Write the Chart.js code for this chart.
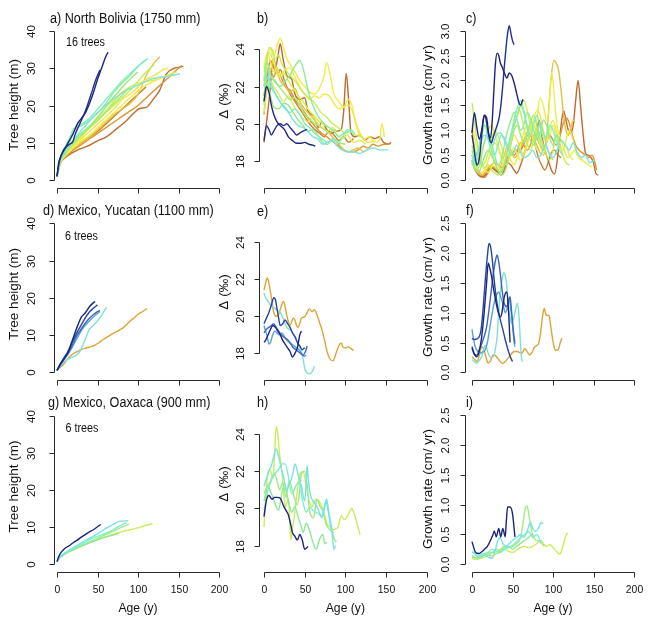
<!DOCTYPE html>
<html><head><meta charset="utf-8">
<script src="https://cdn.jsdelivr.net/npm/chart.js@4.4.1/dist/chart.umd.min.js"></script>
<style>
html,body{margin:0;padding:0;background:#fff;}
#wrap{position:relative;width:666px;height:617px;overflow:hidden;}
#wrap canvas{position:absolute;left:0;top:0;}
</style>
</head><body><div id="wrap"></div>
<script>
// ---------------- DATA ----------------
const ageTicks = [0, 50, 100, 150, 200];
const heightTicks = [0, 10, 20, 30, 40];
const deltaTicks = [18, 20, 22, 24];
const growthTicksBolivia = [0, 0.5, 1, 1.5, 2, 2.5, 3];
const growthTicksMexico = [0, 0.5, 1, 1.5, 2, 2.5];

const colorsBolivia = ['#1b2580','#22308e','#7fe3dc','#7ff0c4','#8fec98','#9be880','#a8ec78','#c4ee58','#d2f04c','#eeee48','#f2e84a','#e2ec52','#e8c03c','#d9962e','#bf6a2e','#cf7f2c'];
const colorsYucatan = ['#1b2580','#2744a0','#3a67bb','#58a2d4','#7fe0d6','#dea43a'];
const colorsOaxaca = ['#1b2580','#78e2e6','#80f0cc','#8fe89a','#a2ea80','#c8ee5a'];

// North Bolivia: tree height (m) vs age (y)
const heightBolivia = [
 [[0,1],[2,4.5],[5,6.5],[10,8.5],[15,10.5],[20,12.5],[25,15],[30,16.5],[35,18],[40,20.5],[45,23.5],[50,27],[55,30],[60,33],[63,34.3]],
 [[0,1],[3,5],[8,8],[15,9.5],[20,10.5],[22,12],[28,15],[35,18.5],[42,23],[48,27],[53,29.5]],
 [[0,1],[3,4.5],[8,6.5],[15,9],[25,12],[35,14.5],[45,17],[55,19],[65,21],[75,22.5],[85,24],[95,25],[105,26],[115,27],[125,27.5],[135,27.8],[152,28.5]],
 [[0,1],[3,5],[8,8],[15,11],[20,13.5],[30,15],[40,16.5],[50,19],[60,21.5],[70,24],[80,26.5],[90,28.5],[100,30.5],[112,32.7]],
 [[0,1],[3,5],[8,7.5],[15,10],[22,13.5],[30,14.5],[40,16],[50,18],[60,20.5],[70,23.5],[80,26],[90,28],[100,30.5],[110,32.3]],
 [[0,1],[3,4.5],[8,7],[15,9],[25,11.5],[35,13.5],[45,15.5],[55,18],[65,21],[75,23.5],[85,26],[100,29]],
 [[0,1],[3,5],[8,7],[15,9],[25,11],[35,13],[45,15],[55,17],[65,19.5],[75,21.5],[90,25]],
 [[0,1],[4,5],[10,7],[20,9.5],[30,12],[40,14],[50,16],[60,18],[70,20],[80,22],[90,24],[100,26.5],[110,29],[120,31]],
 [[0,1],[4,5.5],[10,8],[20,10],[30,12],[40,14],[50,16],[60,18.5],[70,21],[80,23.5]],
 [[0,1],[4,4.5],[10,6.5],[20,8.5],[30,10.5],[40,12],[50,14],[60,16],[70,18],[80,20],[90,22],[100,24],[110,25.5],[120,26.5],[130,27.5],[140,28.5],[148,29]],
 [[0,1],[4,5],[10,7],[20,9],[30,11],[40,13],[50,15],[60,17],[70,19],[80,21.5],[90,23],[100,25],[110,27],[120,28],[130,29.5],[137,30]],
 [[0,1],[4,5],[10,7.5],[20,9.5],[30,11.5],[40,14],[50,17],[60,19.5],[70,21.5],[80,23.5],[90,25],[100,26],[112,26.5],[125,27]],
 [[0,1],[4,5],[10,6.5],[20,8.5],[30,10],[40,11.5],[50,13.5],[60,15.5],[70,17.5],[80,19],[90,20.5],[100,23],[110,28],[120,31.5],[127,33]],
 [[0,1],[4,4.5],[10,6],[20,8],[30,9.5],[40,11],[50,12.5],[60,14],[70,15.5],[80,17],[90,18.5],[100,20],[110,22],[120,24],[130,26],[140,28],[150,30],[154,30.7]],
 [[0,1],[4,4.5],[12,6.3],[25,8],[37,9],[50,10.5],[61,11.6],[75,14],[86,16],[95,18],[102,19.2],[110,19.5],[120,22],[127,24.2],[135,28.5],[145,30],[156,30.5]],
 [[0,1],[4,5],[10,6.5],[20,8.5],[30,10],[40,11.5],[50,13],[60,15],[70,17],[80,19],[90,21],[100,23],[110,25]]
];

// North Bolivia: delta (permil) vs age (y)
const deltaBolivia = [
 [[0,21.2],[3,22.0],[6,21.7],[9,21.0],[12,20.5],[16,20.1],[20,19.9],[25,19.7],[30,19.3],[35,19.1],[40,18.95],[45,18.95],[50,19.0],[55,18.9],[60,18.85],[63,18.8]],
 [[0,19.1],[3,19.9],[6,19.7],[9,19.4],[12,19.6],[16,19.9],[20,20.0],[24,19.9],[28,20.0],[32,19.8],[36,19.6],[40,19.4],[44,19.5],[48,19.6],[53,19.7]],
 [[0,22.3],[4,22.8],[8,22.2],[12,21.8],[18,21.3],[24,20.9],[30,20.6],[36,20.2],[42,19.9],[48,19.8],[54,19.6],[60,19.3],[66,19.2],[72,18.9],[78,19.0],[84,19.1],[90,18.8],[96,18.6],[102,18.5],[110,18.5],[118,18.4],[126,18.6],[134,18.7],[142,18.6],[152,18.6]],
 [[0,21.5],[4,22.5],[8,22.0],[14,21.6],[20,21.2],[26,20.9],[32,20.6],[38,20.8],[44,20.5],[50,20.0],[56,19.8],[62,19.5],[68,19.3],[74,19.1],[80,19.0],[86,19.2],[92,19.0],[98,19.4],[104,19.6],[112,19.5]],
 [[0,22.8],[4,23.3],[8,22.6],[14,22.2],[20,22.0],[26,22.3],[32,22.6],[38,23.1],[44,23.4],[48,23.0],[52,22.2],[56,21.5],[62,20.8],[68,20.3],[74,20.0],[80,19.8],[86,19.6],[92,19.3],[98,19.5],[104,19.7],[110,19.6]],
 [[0,21.2],[4,22.2],[8,21.5],[12,20.9],[18,20.8],[24,21.1],[30,21.0],[36,20.6],[42,20.2],[48,19.9],[54,19.6],[60,19.7],[66,19.4],[72,19.0],[78,18.9],[84,19.2],[90,19.0],[100,18.9]],
 [[0,22.0],[4,23.0],[8,22.6],[14,22.3],[20,21.9],[26,21.6],[32,21.3],[38,21.4],[44,21.0],[50,20.5],[56,20.3],[62,20.0],[68,19.9],[74,19.7],[80,19.5],[86,19.7],[90,19.6]],
 [[0,21.0],[3,23.0],[6,24.1],[10,24.0],[14,23.5],[18,23.7],[22,23.2],[28,22.8],[34,22.5],[40,22.2],[46,21.8],[52,21.5],[58,21.3],[64,21.0],[70,20.6],[76,20.4],[82,20.1],[88,19.9],[94,19.7],[100,19.5],[106,19.6],[112,19.4],[120,19.3]],
 [[0,22.4],[3,23.5],[7,23.8],[11,23.4],[15,22.8],[20,22.5],[25,22.7],[30,22.3],[36,21.9],[42,21.5],[48,21.2],[54,20.8],[60,20.5],[66,20.2],[72,20.0],[80,19.8]],
 [[0,22.0],[4,23.5],[8,24.0],[12,23.6],[16,24.2],[20,24.6],[24,24.1],[28,23.5],[32,23.2],[38,22.8],[44,22.3],[50,22.0],[56,21.7],[62,21.6],[68,21.9],[74,22.6],[77,23.3],[80,22.9],[86,21.6],[92,21.2],[98,20.9],[104,21.3],[108,21.0],[112,20.2],[118,19.5],[124,19.2],[130,19.3],[136,19.0],[142,19.1],[145,20.0],[148,19.3]],
 [[0,23.0],[4,23.8],[8,23.3],[12,22.8],[16,23.0],[20,22.6],[26,22.9],[32,23.0],[38,22.5],[44,22.0],[50,21.6],[56,21.3],[62,21.5],[68,21.4],[74,21.6],[80,21.5],[86,21.1],[92,20.8],[98,20.9],[104,21.0],[110,20.5],[116,19.5],[122,19.2],[128,19.0],[137,19.1]],
 [[0,20.6],[4,21.8],[8,22.3],[12,22.0],[18,21.6],[24,21.2],[30,21.5],[36,21.0],[42,20.6],[48,20.3],[54,20.1],[60,20.4],[66,20.0],[72,19.8],[78,19.6],[84,19.8],[90,19.4],[96,19.2],[102,19.4],[110,19.0],[118,19.1],[125,18.9]],
 [[0,22.3],[4,23.2],[8,22.9],[12,23.5],[16,22.8],[20,22.3],[26,22.0],[32,21.7],[38,21.9],[44,21.2],[50,20.8],[56,20.5],[62,20.2],[68,19.9],[74,19.7],[80,19.5],[86,19.2],[92,18.9],[98,18.6],[104,18.5],[110,18.6],[116,18.7],[122,18.5],[127,18.6]],
 [[0,20.5],[4,22.3],[8,22.8],[12,22.5],[16,23.0],[20,22.6],[26,22.0],[32,21.8],[38,21.3],[44,21.0],[50,20.6],[56,20.2],[62,19.9],[68,19.6],[74,19.4],[80,19.2],[86,19.0],[92,18.8],[98,18.6],[104,18.5],[110,18.5],[116,18.6],[122,18.8],[128,18.7],[134,18.9],[140,18.8],[148,18.9],[154,18.9]],
 [[0,19.0],[4,20.4],[7,21.6],[11,23.2],[14,23.0],[17,23.6],[20,24.3],[23,23.6],[28,22.6],[34,22.4],[38,21.6],[44,21.3],[50,21.4],[54,20.7],[61,20.4],[67,19.8],[71,20.1],[77,19.7],[83,19.5],[89,19.6],[95,19.7],[98,20.7],[101,22.7],[104,21.3],[107,19.5],[112,19.3],[118,19.4],[124,19.1],[130,19.3],[136,19.2],[142,19.3],[147,19.0],[153,18.9],[156,19.0]],
 [[0,21.5],[4,22.6],[8,23.4],[12,23.0],[16,22.7],[20,22.9],[26,22.2],[32,21.6],[38,21.2],[44,20.8],[50,20.4],[56,20.0],[62,19.7],[68,19.5],[74,19.3],[80,19.6],[86,19.4],[92,19.1],[98,19.3],[104,19.0],[110,19.2]]
];

// North Bolivia: growth rate (cm/yr) vs age (y)
const growthBolivia = [
 [[0,0.95],[3,1.35],[6,1.05],[9,0.82],[12,1.0],[15,1.3],[18,1.25],[21,0.9],[23,0.85],[25,1.2],[27,1.8],[29,2.35],[31,2.55],[33,2.5],[35,2.35],[37,2.28],[40,2.15],[43,2.05],[46,2.15],[49,2.1],[52,1.95],[55,1.75],[58,1.55],[60,1.5],[62,1.58],[63,1.62]],
 [[0,0.9],[2,0.7],[4,0.45],[6,0.3],[8,0.35],[10,0.55],[12,0.9],[14,1.2],[16,1.3],[18,1.15],[20,0.95],[22,0.8],[24,0.75],[26,0.85],[28,0.95],[30,1.05],[32,1.15],[34,1.3],[36,1.55],[38,1.9],[40,2.3],[42,2.65],[44,2.95],[46,3.1],[48,2.95],[50,2.8],[52,2.72]],
 [[0,0.3],[5,0.5],[10,0.7],[15,0.9],[20,0.85],[25,0.7],[30,0.9],[35,0.95],[40,0.8],[45,0.6],[50,0.5],[55,0.7],[60,0.55],[65,0.45],[70,0.5],[75,0.6],[80,0.45],[85,0.5],[90,0.7],[95,0.55],[100,0.45],[105,0.6],[110,0.8],[115,0.7],[120,0.6],[125,0.75],[130,0.55],[135,0.45],[140,0.5],[145,0.35],[152,0.4]],
 [[0,0.5],[4,0.3],[8,0.6],[12,1.0],[16,1.1],[20,0.8],[24,0.6],[28,0.5],[32,0.7],[36,0.9],[40,0.85],[44,0.7],[48,0.9],[52,1.2],[56,1.45],[60,1.6],[64,1.4],[68,1.1],[72,0.9],[76,1.1],[80,1.3],[84,1.1],[88,0.85],[92,0.9],[96,1.1],[100,1.0],[104,0.8],[108,0.6],[112,0.5]],
 [[0,0.6],[4,0.35],[8,0.25],[12,0.5],[16,0.8],[20,0.9],[24,0.75],[28,0.5],[32,0.3],[36,0.4],[40,0.7],[44,1.0],[48,1.2],[52,1.35],[56,1.2],[60,1.0],[64,1.1],[68,1.35],[72,1.25],[76,1.0],[80,0.8],[84,0.95],[88,1.2],[92,1.1],[96,0.85],[100,0.7],[104,0.9],[110,0.8]],
 [[0,0.4],[4,0.2],[8,0.15],[12,0.3],[16,0.5],[20,0.6],[24,0.5],[28,0.35],[32,0.2],[36,0.15],[40,0.3],[44,0.6],[48,0.9],[52,1.1],[56,1.3],[60,1.5],[64,1.35],[68,1.05],[72,0.8],[76,0.7],[80,0.9],[84,1.1],[88,0.95],[92,0.7],[96,0.5],[100,0.4]],
 [[0,0.7],[4,0.5],[8,0.6],[12,0.9],[16,1.1],[20,0.9],[24,0.6],[28,0.35],[32,0.2],[36,0.1],[40,0.15],[44,0.35],[48,0.7],[52,1.0],[56,1.1],[60,0.9],[64,0.75],[68,0.9],[72,1.15],[76,1.3],[80,1.1],[84,0.8],[88,0.65],[90,0.6]],
 [[0,1.55],[3,1.2],[6,0.8],[9,0.5],[12,0.35],[16,0.25],[20,0.3],[24,0.2],[28,0.15],[32,0.1],[36,0.2],[40,0.35],[44,0.6],[48,0.9],[52,1.2],[56,1.45],[60,1.35],[64,1.05],[68,0.75],[72,0.6],[76,0.8],[80,1.05],[84,0.9],[88,0.7],[92,0.5],[96,0.4],[100,0.6],[104,0.9],[108,0.75],[112,0.5],[116,0.35],[120,0.3]],
 [[0,0.9],[4,0.6],[8,0.4],[12,0.3],[16,0.35],[20,0.55],[24,0.8],[28,1.0],[32,0.9],[36,0.7],[40,0.5],[44,0.6],[48,0.85],[52,1.1],[56,1.3],[60,1.5],[64,1.6],[68,1.4],[72,1.1],[76,0.8],[80,0.6]],
 [[0,1.1],[4,0.8],[8,0.5],[12,0.3],[16,0.2],[20,0.15],[24,0.25],[28,0.4],[32,0.3],[36,0.2],[40,0.35],[44,0.5],[48,0.4],[52,0.3],[56,0.45],[60,0.7],[64,0.95],[68,1.1],[72,1.0],[76,0.8],[80,1.2],[84,1.65],[88,1.5],[92,1.2],[95,1.4],[98,2.15],[100,2.0],[103,1.4],[106,1.0],[110,0.8],[114,0.6],[118,0.45],[122,0.5],[126,0.6],[130,0.5],[135,0.4],[140,0.35],[144,0.3],[148,0.25]],
 [[0,0.3],[4,0.25],[8,0.35],[12,0.6],[16,0.8],[20,1.0],[24,1.1],[28,0.95],[32,0.7],[36,0.5],[40,0.4],[44,0.55],[48,0.75],[52,0.9],[56,0.8],[60,0.6],[64,0.5],[68,0.7],[72,0.95],[76,1.2],[80,1.4],[84,1.3],[88,1.0],[92,0.8],[96,0.9],[100,1.1],[104,0.9],[108,0.7],[112,0.6],[116,0.8],[120,1.0],[124,0.85],[128,0.6],[132,0.45],[137,0.4]],
 [[0,0.5],[4,0.35],[8,0.2],[12,0.15],[16,0.2],[20,0.4],[24,0.6],[28,0.75],[32,0.65],[36,0.45],[40,0.3],[44,0.35],[48,0.5],[52,0.65],[56,0.5],[60,0.4],[64,0.55],[68,0.75],[72,0.95],[76,1.1],[80,0.95],[84,0.7],[88,0.55],[92,0.75],[96,1.05],[100,1.2],[104,1.0],[108,0.75],[112,0.6],[116,0.7],[120,0.5],[125,0.4]],
 [[0,0.5],[4,0.25],[8,0.15],[12,0.1],[16,0.15],[20,0.25],[24,0.3],[28,0.25],[32,0.2],[36,0.3],[40,0.5],[44,0.7],[48,0.6],[52,0.45],[56,0.5],[60,0.65],[64,0.8],[68,0.95],[72,1.0],[76,0.85],[80,0.7],[84,0.55],[88,0.5],[92,0.8],[95,1.5],[98,2.1],[101,2.4],[104,2.35],[107,2.2],[110,1.8],[113,1.3],[116,1.0],[119,0.9],[122,1.05],[125,1.2],[127,1.15]],
 [[0,0.35],[4,0.2],[8,0.12],[12,0.1],[16,0.15],[20,0.22],[24,0.3],[28,0.35],[32,0.3],[36,0.25],[40,0.3],[44,0.45],[48,0.55],[52,0.5],[56,0.6],[60,0.75],[64,0.7],[68,0.6],[72,0.7],[76,0.9],[80,0.85],[84,0.7],[88,0.6],[92,0.75],[96,0.9],[100,0.8],[104,0.7],[108,0.85],[112,1.1],[116,1.25],[120,1.15],[124,0.9],[128,0.7],[132,0.6],[136,0.55],[140,0.5],[144,0.45],[148,0.5],[151,0.4],[154,0.2]],
 [[0,0.4],[4,0.2],[8,0.1],[12,0.06],[16,0.1],[20,0.2],[24,0.25],[28,0.2],[32,0.15],[36,0.1],[40,0.2],[44,0.35],[48,0.3],[52,0.2],[55,0.13],[60,0.3],[64,0.5],[68,0.75],[72,0.9],[76,0.8],[80,1.0],[83,1.2],[86,0.9],[90,0.6],[94,0.4],[98,0.2],[102,0.12],[106,0.5],[110,1.1],[113,1.4],[116,1.2],[119,1.0],[122,0.95],[125,1.1],[128,1.6],[131,2.0],[134,1.5],[137,0.95],[140,0.55],[143,0.5],[147,0.45],[150,0.35],[153,0.13],[156,0.1]],
 [[0,1.0],[3,0.6],[6,0.3],[9,0.15],[12,0.08],[15,0.05],[18,0.1],[22,0.2],[26,0.25],[30,0.2],[34,0.15],[38,0.2],[42,0.3],[46,0.45],[50,0.55],[54,0.6],[58,0.55],[62,0.65],[66,0.8],[70,0.95],[74,0.9],[78,0.7],[82,0.45],[86,0.3],[90,0.2],[94,0.35],[98,0.55],[102,0.6],[106,0.5],[110,0.45]]
];

// Mexico, Yucatan
const heightYucatan = [
 [[0,0.5],[3,1.8],[6,2.8],[10,4],[14,5.5],[18,8],[22,10.5],[26,12.8],[30,14.8],[35,16],[40,17.6],[44,18.5],[47,19]],
 [[0,0.5],[4,2.2],[8,3.7],[12,5],[16,6.8],[20,8.6],[24,10.4],[28,12],[32,13.5],[36,15],[40,16.2],[45,17.2],[50,18.1]],
 [[0,0.5],[4,2],[8,3.3],[12,4.6],[16,6],[20,7.8],[24,9.6],[28,11],[32,12.3],[36,13.5],[40,14.5],[45,15.5],[50,16.3],[53,16.6]],
 [[0,0.5],[4,1.8],[10,3.8],[15,5.3],[20,7.2],[25,9.2],[30,11.2],[35,12.6],[40,13.8],[45,14.9],[50,15.8],[53,16.3]],
 [[0,0.5],[4,1.6],[8,2.6],[12,3.3],[18,4],[24,4.6],[28,5.5],[32,7.4],[36,9.5],[40,11.5],[45,12.6],[50,13.8],[55,15.3],[61,17.4]],
 [[0,0.5],[4,1.3],[8,2.1],[12,3.3],[16,4.3],[21,5.1],[26,5.7],[31,6.2],[37,6.6],[42,6.9],[47,7.3],[52,8.0],[57,8.8],[63,9.6],[70,10.5],[76,11.2],[82,12],[86,12.8],[90,13.7],[95,14.6],[100,15.6],[105,16.2],[111,17.1]]
];
const deltaYucatan = [
 [[0,18.6],[2,18.7],[5,19.0],[8,19.3],[11,19.5],[14,19.4],[17,19.2],[20,19.0],[23,18.7],[26,18.5],[29,18.3],[32,18.1],[35,17.8],[38,18.0],[41,18.3],[44,19.0],[46,19.2]],
 [[0,19.6],[3,19.9],[6,20.2],[9,20.6],[12,21.0],[14,20.9],[16,20.4],[18,19.9],[20,19.5],[23,19.6],[26,19.8],[29,19.6],[32,19.4],[35,19.1],[38,18.9],[41,18.6],[44,18.4],[47,18.2],[50,18.3]],
 [[0,19.1],[3,19.3],[6,19.4],[9,19.5],[12,19.6],[15,19.4],[18,19.2],[21,19.0],[24,18.9],[27,18.8],[30,18.7],[33,18.5],[36,18.3],[39,18.2],[42,18.1],[45,18.0],[48,17.9],[51,18.1],[53,18.4]],
 [[0,19.5],[2,19.2],[4,18.9],[6,18.5],[8,18.6],[10,18.9],[13,19.2],[16,19.1],[19,19.0],[22,19.1],[25,18.9],[28,18.7],[31,18.6],[34,18.5],[37,18.4],[40,18.3],[43,18.2],[46,18.0],[49,17.85],[52,17.9]],
 [[0,21.25],[2,21.0],[5,20.8],[8,20.6],[11,20.5],[14,20.4],[17,20.3],[20,20.2],[22,20.05],[25,19.7],[28,19.4],[31,19.3],[34,19.2],[37,19.0],[40,18.7],[43,18.4],[46,18.1],[48,17.7],[50,17.2],[53,16.95],[56,16.9],[59,17.0],[62,17.3]],
 [[0,21.4],[2,21.8],[4,22.06],[6,21.8],[8,21.3],[10,20.7],[12,20.2],[15,20.0],[18,20.1],[21,20.5],[24,20.8],[26,20.5],[28,20.05],[30,19.7],[32,19.5],[34,19.7],[36,19.9],[38,19.8],[40,19.5],[42,19.4],[44,19.6],[46,19.9],[49,19.95],[52,20.1],[54,20.3],[56,20.4],[59,20.25],[62,20.35],[65,20.1],[68,19.7],[71,19.3],[74,18.8],[77,18.2],[79,17.9],[82,17.65],[85,17.6],[87,17.8],[90,18.2],[93,18.5],[95,18.55],[97,18.35],[100,18.3],[103,18.35],[106,18.3],[110,18.15]]
];
const growthYucatan = [
 [[0,0.43],[3,0.3],[6,0.26],[9,0.36],[12,0.6],[15,1.0],[18,1.5],[20,1.83],[22,1.75],[24,1.62],[27,1.37],[30,1.15],[33,0.98],[35,0.93],[37,1.0],[39,1.2],[41,1.32],[43,1.35],[45,1.05],[47,0.5]],
 [[0,0.57],[3,0.55],[6,0.56],[9,0.6],[11,0.7],[13,0.95],[15,1.3],[17,1.65],[19,1.95],[21,2.16],[23,2.1],[25,1.9],[27,1.6],[29,1.35],[31,1.15],[33,1.0],[35,0.88],[38,0.72],[41,0.55],[44,0.4],[47,0.27],[50,0.18]],
 [[0,0.4],[3,0.3],[6,0.29],[9,0.38],[12,0.48],[15,0.6],[18,0.76],[21,1.05],[24,1.4],[27,1.72],[29,1.88],[31,1.97],[33,1.85],[35,1.65],[37,1.4],[39,1.2],[41,1.12],[43,1.1],[45,1.2],[47,1.27],[49,1.0],[51,0.7],[53,0.48]],
 [[0,0.72],[2,0.55],[4,0.43],[7,0.35],[10,0.32],[13,0.34],[16,0.37],[19,0.5],[22,0.75],[25,1.0],[28,1.2],[31,1.32],[33,1.35],[35,1.28],[37,1.2],[39,1.1],[41,1.0],[43,1.05],[45,1.18],[46,1.21],[48,1.05],[50,0.8],[52,0.5],[53,0.43]],
 [[0,0.21],[3,0.18],[6,0.15],[9,0.2],[12,0.26],[15,0.42],[17,0.45],[20,0.32],[23,0.25],[26,0.25],[29,0.4],[31,0.6],[33,1.0],[35,1.35],[37,1.55],[39,1.67],[41,1.62],[43,1.45],[45,1.1],[47,0.9],[49,0.82],[51,0.88],[53,1.0],[55,1.12],[56,1.16],[58,0.95],[60,0.45],[61,0.26],[62,0.18]],
 [[0,0.26],[3,0.22],[6,0.18],[9,0.28],[12,0.43],[14,0.4],[16,0.32],[18,0.22],[20,0.15],[23,0.2],[26,0.29],[29,0.28],[32,0.23],[35,0.18],[38,0.15],[41,0.18],[44,0.23],[47,0.28],[50,0.33],[53,0.35],[56,0.35],[59,0.33],[62,0.32],[65,0.4],[68,0.35],[71,0.29],[74,0.33],[77,0.42],[80,0.45],[82,0.48],[84,0.6],[86,0.82],[88,1.02],[89,1.07],[91,0.98],[93,0.95],[95,0.96],[97,0.8],[99,0.6],[101,0.45],[103,0.37],[105,0.37],[107,0.4],[109,0.5],[111,0.57]]
];

// Mexico, Oaxaca
const heightOaxaca = [
 [[0,0.7],[2,2],[5,3.2],[10,4.3],[15,5],[20,5.8],[25,6.5],[30,7.3],[35,8],[40,8.7],[45,9.3],[50,10.1],[54,10.7]],
 [[0,0.7],[3,1.8],[10,3.1],[20,4.5],[30,5.8],[40,7],[50,8.2],[60,9.6],[70,10.8],[78,11.6],[88,11.7]],
 [[0,0.7],[3,1.8],[10,3],[20,4.2],[30,5.4],[40,6.6],[50,7.5],[60,8.3],[70,9.4],[80,10.6],[86,11.2]],
 [[0,0.7],[3,1.7],[10,2.8],[20,3.9],[30,4.9],[40,5.8],[50,6.6],[60,7.3],[70,7.9],[77,8.3]],
 [[0,0.7],[3,1.7],[10,2.9],[20,4],[30,5],[40,6],[50,7],[60,8],[70,9],[80,10],[89,10.8]],
 [[0,0.7],[3,1.6],[10,2.8],[20,3.8],[30,4.9],[40,5.8],[50,6.7],[60,7.4],[70,8.1],[80,8.8],[90,9.3],[100,9.8],[110,10.5],[118,10.9]]
];
const deltaOaxaca = [
 [[0,19.56],[3,20.45],[6,20.7],[10,20.5],[13,20.6],[16,20.6],[20,20.55],[24,20.14],[27,19.9],[30,19.65],[33,19.1],[35,18.7],[38,18.5],[41,18.3],[44,18.6],[47,18.3],[50,17.8],[54,17.95]],
 [[0,21.2],[3,21.6],[6,22.0],[9,22.3],[12,22.8],[15,23.2],[18,22.8],[21,22.2],[24,21.7],[28,21.0],[30,21.2],[33,21.5],[36,22.0],[38,22.4],[40,22.2],[42,21.8],[46,21.2],[50,20.4],[52,21.5],[53,22.3],[55,21.3],[58,20.6],[62,20.3],[65,20.1],[68,19.8],[71,19.5],[74,20.0],[77,20.5],[80,19.7],[83,19.0],[86,17.8],[88,18.0]],
 [[0,19.9],[3,20.5],[5,21.0],[8,21.4],[11,21.7],[14,21.9],[18,22.1],[22,22.4],[26,22.4],[30,21.7],[34,20.8],[37,21.0],[39,21.2],[43,21.4],[47,20.5],[52,19.8],[56,20.1],[60,19.9],[64,19.8],[67,19.7],[71,19.6],[74,20.0],[76,20.4],[79,19.8],[83,18.8],[86,18.7]],
 [[0,20.4],[5,21.2],[8,20.9],[11,20.6],[14,20.2],[18,19.9],[21,20.6],[25,21.3],[28,20.8],[30,20.4],[34,19.8],[38,20.1],[41,19.7],[43,19.4],[46,19.0],[48,18.7],[52,19.2],[56,18.8],[60,18.2],[64,17.8],[68,18.3],[72,18.6],[75,18.1],[77,18.2]],
 [[0,20.8],[4,21.2],[7,21.4],[10,21.7],[13,21.9],[16,21.5],[19,21.0],[23,21.4],[27,20.6],[31,21.5],[36,20.8],[41,20.2],[44,21.0],[46,21.9],[50,22.0],[53,21.3],[56,19.9],[61,19.5],[65,20.5],[69,20.1],[73,19.8],[76,19.2],[80,18.9],[84,18.7],[87,18.3],[89,18.2]],
 [[0,19.0],[2,20.5],[4,21.6],[7,22.1],[9,21.9],[11,21.6],[13,23.0],[15,24.4],[17,24.0],[19,23.0],[22,22.0],[24,21.0],[26,20.1],[28,20.3],[30,20.5],[32,19.0],[33,18.3],[35,18.9],[37,19.5],[40,20.6],[44,21.8],[48,22.0],[52,21.2],[55,20.5],[59,20.1],[62,20.4],[65,20.5],[69,20.3],[73,19.9],[77,19.2],[81,19.0],[85,18.85],[88,18.9],[91,19.0],[95,19.6],[99,19.4],[103,19.6],[108,20.0],[111,19.7],[115,19.1],[118,18.6]]
];
const growthOaxaca = [
 [[0,0.38],[4,0.21],[8,0.18],[12,0.21],[16,0.26],[19,0.3],[23,0.41],[26,0.5],[27.5,0.56],[30,0.46],[33,0.6],[35.5,0.46],[38,0.6],[41,0.46],[42.5,0.75],[44,0.96],[47,0.96],[50,0.85],[53,0.46]],
 [[0,0.22],[5,0.15],[10,0.12],[15,0.15],[20,0.12],[25,0.1],[28,0.2],[32,0.4],[35,0.45],[38,0.35],[42,0.3],[46,0.35],[50,0.4],[55,0.45],[60,0.5],[64,0.45],[68,0.55],[72,0.7],[75,0.6],[78,0.55],[82,0.6],[85,0.7],[88,0.68]],
 [[0,0.2],[5,0.18],[10,0.15],[15,0.18],[20,0.2],[25,0.25],[30,0.22],[35,0.2],[40,0.25],[45,0.28],[50,0.32],[55,0.38],[60,0.45],[65,0.5],[70,0.55],[75,0.45],[80,0.5],[84,0.4],[86,0.35]],
 [[0,0.12],[5,0.1],[10,0.15],[15,0.18],[20,0.15],[25,0.2],[30,0.25],[35,0.22],[40,0.28],[45,0.3],[50,0.25],[55,0.3],[60,0.35],[65,0.4],[70,0.45],[74,0.5],[77,0.45]],
 [[0,0.15],[5,0.1],[10,0.12],[15,0.15],[20,0.18],[25,0.2],[30,0.18],[35,0.25],[40,0.3],[45,0.28],[50,0.3],[55,0.35],[60,0.45],[63,0.7],[66,0.95],[68,0.98],[70,0.85],[73,0.6],[76,0.45],[80,0.4],[84,0.38],[89,0.3]],
 [[0,0.1],[5,0.08],[10,0.1],[15,0.12],[20,0.15],[25,0.14],[30,0.18],[35,0.2],[40,0.25],[45,0.22],[50,0.2],[55,0.24],[60,0.28],[65,0.3],[70,0.28],[75,0.3],[80,0.35],[85,0.4],[88,0.35],[92,0.3],[96,0.33],[100,0.28],[104,0.22],[108,0.17],[110,0.2],[113,0.35],[116,0.48],[118,0.53]]
];

// ---------------- LAYOUT ----------------
const W = 666, H = 617, SX = 0.9;
const FONT = '"Liberation Sans", Arial, Helvetica, sans-serif';
const TICK_SIZE = 11.5, TITLE_SIZE = 14, AXTITLE_SIZE = 13.5, NOTE_SIZE = 12;
const cols = [
  {x0:57, x200:219, axisX:54, labelX:32, yTitleX:15},
  {x0:264, x200:426.7, axisX:259, labelX:241.5, yTitleX:225},
  {x0:472, x200:634, axisX:465, labelX:446.5, yTitleX:429}
];
const panels = [
  {c:0, series:heightBolivia, colors:colorsBolivia, ticks:heightTicks, dec:0, yMinPx:180, yMaxPx:31, axisY:188, title:'a) North Bolivia (1750 mm)', titleX:50, titleY:19, yTitle:'Tree height (m)', yTitleY:105, note:'16 trees', noteX:66, noteY:43},
  {c:1, series:deltaBolivia, colors:colorsBolivia, ticks:deltaTicks, dec:0, yMinPx:161, yMaxPx:49.3, axisY:188, title:'b)', titleX:257, titleY:19, yTitle:'\u0394 (\u2030)', yTitleY:101},
  {c:2, series:growthBolivia, colors:colorsBolivia, ticks:growthTicksBolivia, dec:1, yMinPx:180, yMaxPx:30.7, axisY:188, title:'c)', titleX:466, titleY:19, yTitle:'Growth rate (cm/ yr)', yTitleY:105},
  {c:0, series:heightYucatan, colors:colorsYucatan, ticks:heightTicks, dec:0, yMinPx:372.3, yMaxPx:223.3, axisY:380, title:'d) Mexico, Yucatan (1100 mm)', titleX:43, titleY:211.5, yTitle:'Tree height (m)', yTitleY:294, note:'6 trees', noteX:65, noteY:236.5},
  {c:1, series:deltaYucatan, colors:colorsYucatan, ticks:deltaTicks, dec:0, yMinPx:353.4, yMaxPx:242, axisY:380, title:'e)', titleX:257, titleY:212, yTitle:'\u0394 (\u2030)', yTitleY:292},
  {c:2, series:growthYucatan, colors:colorsYucatan, ticks:growthTicksMexico, dec:1, yMinPx:372.3, yMaxPx:223.3, axisY:380, title:'f)', titleX:466, titleY:211.5, yTitle:'Growth rate (cm/ yr)', yTitleY:297},
  {c:0, series:heightOaxaca, colors:colorsOaxaca, ticks:heightTicks, dec:0, yMinPx:564.3, yMaxPx:415.6, axisY:572, title:'g) Mexico, Oaxaca (900 mm)', titleX:48, titleY:403.5, yTitle:'Tree height (m)', yTitleY:486.5, note:'6 trees', noteX:65.5, noteY:428.3, xLabels:true},
  {c:1, series:deltaOaxaca, colors:colorsOaxaca, ticks:deltaTicks, dec:0, yMinPx:545.6, yMaxPx:434.2, axisY:572, title:'h)', titleX:257, titleY:403.5, yTitle:'\u0394 (\u2030)', yTitleY:484, xLabels:true},
  {c:2, series:growthOaxaca, colors:colorsOaxaca, ticks:growthTicksMexico, dec:1, yMinPx:564.3, yMaxPx:415.2, axisY:572, title:'i)', titleX:466, titleY:403.5, yTitle:'Growth rate (cm/ yr)', yTitleY:489, xLabels:true}
];

function txt(ctx, s, x, y, size, align, rot) {
  ctx.save();
  ctx.translate(x, y);
  ctx.scale(SX, 1);
  if (rot) ctx.rotate(-Math.PI / 2);
  ctx.font = size + 'px ' + FONT;
  ctx.fillStyle = '#111';
  ctx.textAlign = align || 'center';
  ctx.textBaseline = 'middle';
  ctx.fillText(s, 0, 0);
  ctx.restore();
}
function seg(ctx, x1, y1, x2, y2) {
  ctx.beginPath(); ctx.moveTo(x1, y1); ctx.lineTo(x2, y2); ctx.stroke();
}

function axesPlugin(p) {
  const col = cols[p.c];
  return {
    id: 'rAxes',
    afterDraw(chart) {
      const ctx = chart.ctx, xs = chart.scales.x, ys = chart.scales.y;
      ctx.save();
      ctx.strokeStyle = '#2a2a2a';
      ctx.lineWidth = 1;
      const ax = Math.round(col.axisX) + 0.5;
      const yT = ys.getPixelForValue(p.ticks[p.ticks.length - 1]);
      const yB = ys.getPixelForValue(p.ticks[0]);
      seg(ctx, ax, Math.round(yT) + 0.5, ax, Math.round(yB) + 0.5);
      p.ticks.forEach(t => {
        const y = Math.round(ys.getPixelForValue(t)) + 0.5;
        seg(ctx, ax - 5, y, ax, y);
        txt(ctx, t.toFixed(p.dec), col.labelX, y, TICK_SIZE, 'center', true);
      });
      const ay = Math.round(p.axisY) + 0.5;
      const xL = xs.getPixelForValue(ageTicks[0]);
      const xR = xs.getPixelForValue(ageTicks[ageTicks.length - 1]);
      seg(ctx, Math.round(xL) + 0.5, ay, Math.round(xR) + 0.5, ay);
      ageTicks.forEach(t => {
        const x = Math.round(xs.getPixelForValue(t)) + 0.5;
        seg(ctx, x, ay, x, ay + 5);
        if (p.xLabels) txt(ctx, String(t), x, 589.5, TICK_SIZE, 'center', false);
      });
      if (p.xLabels) txt(ctx, 'Age (y)', xs.getPixelForValue(100), 608, AXTITLE_SIZE, 'center', false);
      txt(ctx, p.title, p.titleX, p.titleY, TITLE_SIZE, 'left', false);
      txt(ctx, p.yTitle, col.yTitleX, p.yTitleY, AXTITLE_SIZE, 'center', true);
      if (p.note) txt(ctx, p.note, p.noteX, p.noteY, NOTE_SIZE, 'left', false);
      ctx.restore();
    }
  };
}

const wrap = document.getElementById('wrap');
panels.forEach(p => {
  const col = cols[p.c];
  const cv = document.createElement('canvas');
  cv.width = W; cv.height = H;
  cv.style.width = W + 'px'; cv.style.height = H + 'px';
  wrap.appendChild(cv);
  const datasets = p.series.map((s, i) => ({
    data: s.map(pt => ({x: pt[0], y: pt[1]})),
    borderColor: p.colors[i],
    borderWidth: 1.4,
    pointRadius: 0,
    fill: false,
    tension: 0.4,
    cubicInterpolationMode: 'monotone',
    clip: false
  }));
  new Chart(cv, {
    type: 'line',
    data: {datasets},
    options: {
      responsive: false,
      animation: false,
      devicePixelRatio: 1,
      layout: {padding: {left: col.x0, right: W - col.x200, top: p.yMaxPx, bottom: H - p.yMinPx}},
      plugins: {legend: {display: false}, tooltip: {enabled: false}, title: {display: false}},
      scales: {
        x: {type: 'linear', min: ageTicks[0], max: ageTicks[ageTicks.length - 1], display: false},
        y: {type: 'linear', min: p.ticks[0], max: p.ticks[p.ticks.length - 1], display: false}
      },
      events: []
    },
    plugins: [axesPlugin(p)]
  });
});
</script>
</body></html>
